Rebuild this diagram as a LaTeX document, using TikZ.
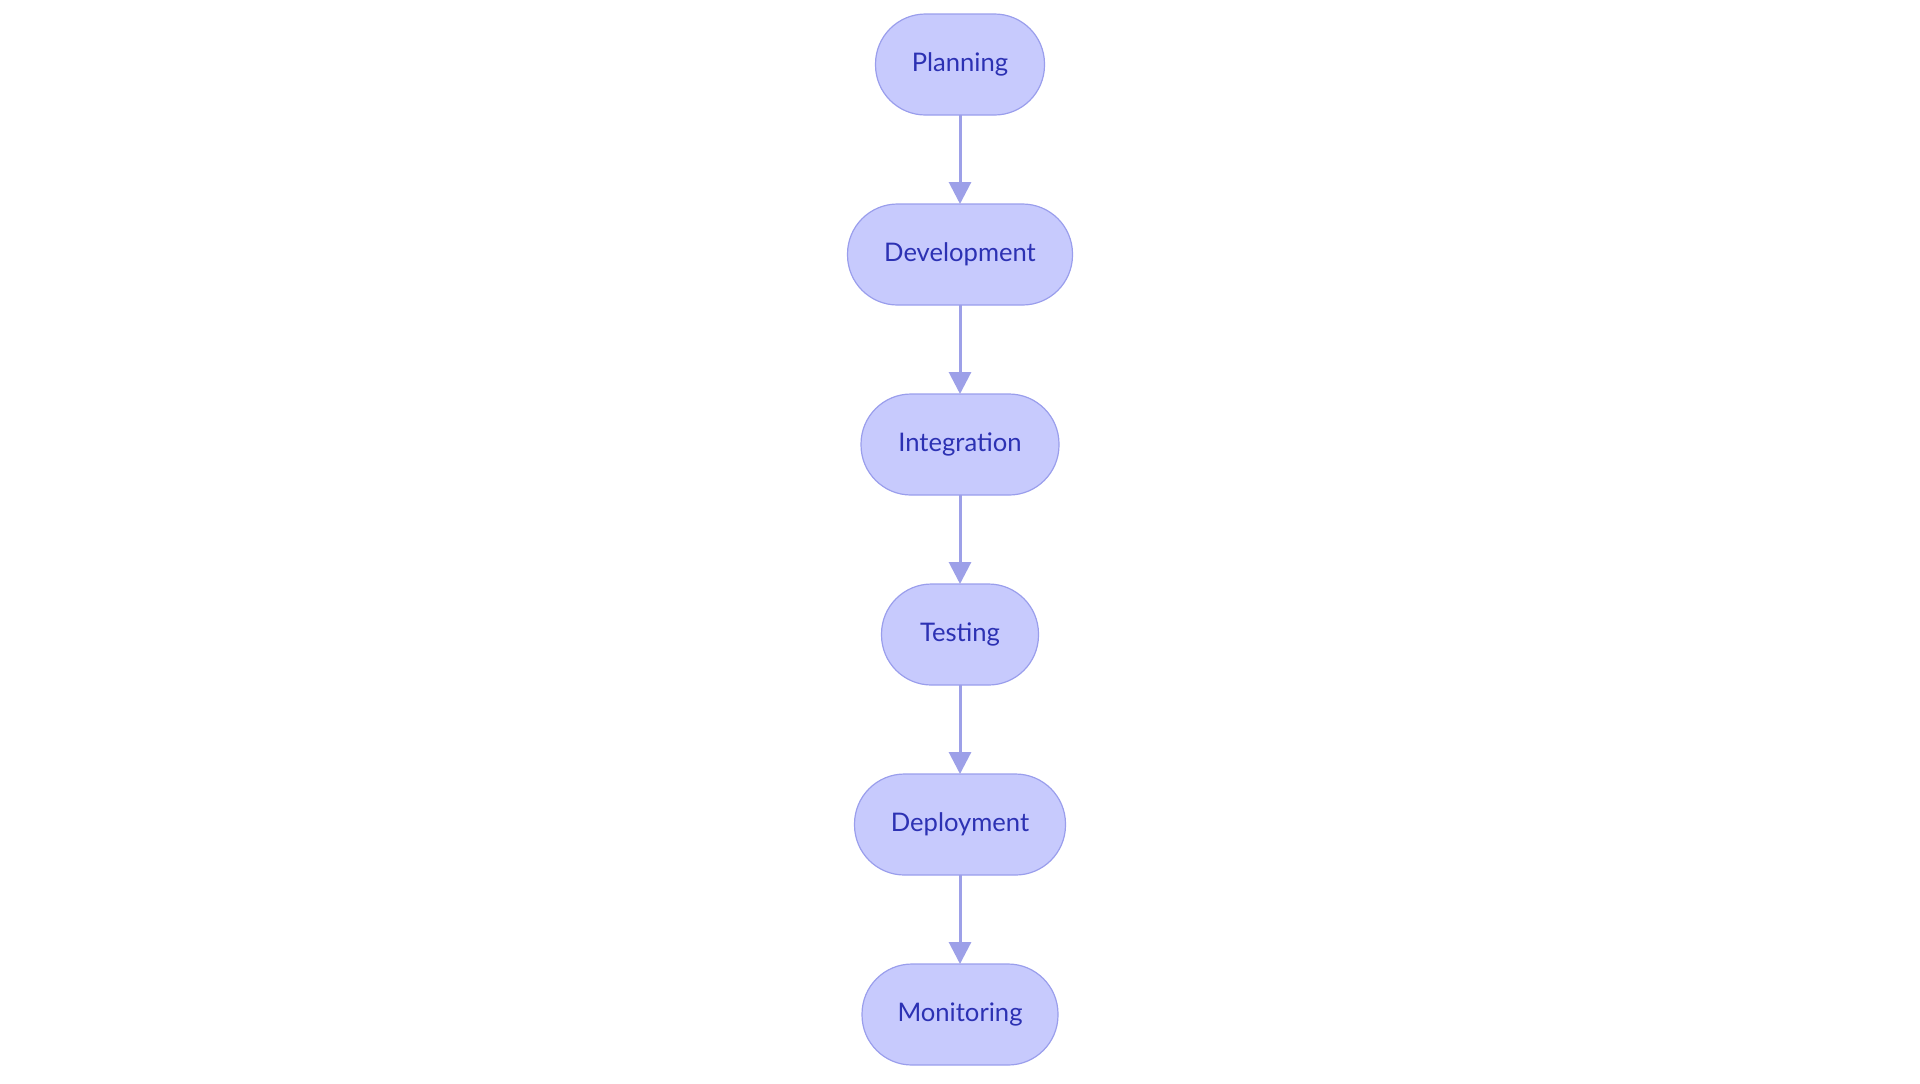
\documentclass[tikz,border=0pt]{standalone}
\usepackage{fontspec}
\setmainfont{Lato}
\usetikzlibrary{arrows.meta, positioning}
\definecolor{stagefill}{HTML}{C7CAFD}
\definecolor{stageline}{HTML}{9A9EEC}
\definecolor{stagetext}{HTML}{2C31B3}
\definecolor{flowline}{HTML}{9DA0E8}

\begin{document}
\begin{tikzpicture}[x=0.5pt, y=-0.5pt,
    stagebox/.style={draw=stageline, fill=stagefill, line width=0.6pt, rounded corners=25pt,
      minimum height=50.5pt, inner sep=0pt, outer sep=0pt, text=stagetext,
      font=\fontsize{12.8}{15}\selectfont},
    flow/.style={-{Triangle[length=11pt,width=11pt]}, flowline, line width=1.5pt},
    node distance=44.5pt]
  \useasboundingbox (0,0) rectangle (1920,1083);
  % Etapas del ciclo
  \node[stagebox, minimum width=84.5pt] (planning) at (960,64.5) {Planning};
  \node[stagebox, minimum width=112.5pt, below=of planning] (development) {Development};
  \node[stagebox, minimum width=99pt, below=of development] (integration) {Integration};
  \node[stagebox, minimum width=78.5pt, below=of integration] (testing) {Testing};
  \node[stagebox, minimum width=105.5pt, below=of testing] (deployment) {Deployment};
  \node[stagebox, minimum width=98pt, below=of deployment] (monitoring) {Monitoring};
  % Flechas
  \foreach \from/\to in {planning/development, development/integration, integration/testing,
      testing/deployment, deployment/monitoring}
    \draw[flow] (\from) -- (\to);
\end{tikzpicture}
\end{document}
